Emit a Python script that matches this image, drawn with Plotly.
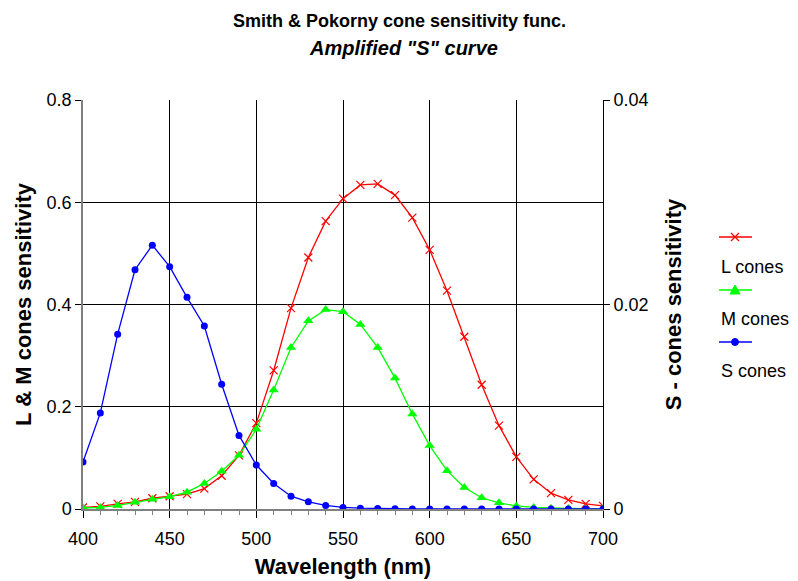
import plotly.graph_objects as go

# ---------------- data ----------------
wavelength = [400, 410, 420, 430, 440, 450, 460, 470, 480, 490, 500,
              510, 520, 530, 540, 550, 560, 570, 580, 590, 600,
              610, 620, 630, 640, 650, 660, 670, 680, 690, 700]

l_cones = [0.003, 0.005, 0.010, 0.014, 0.021, 0.025, 0.029, 0.040, 0.065, 0.105, 0.168,
           0.271, 0.393, 0.492, 0.563, 0.607, 0.634, 0.636, 0.614, 0.570, 0.507,
           0.427, 0.337, 0.243, 0.163, 0.102, 0.058, 0.031, 0.018, 0.010, 0.006]

m_cones = [0.002, 0.003, 0.007, 0.013, 0.019, 0.024, 0.033, 0.050, 0.074, 0.105, 0.156,
           0.233, 0.316, 0.368, 0.390, 0.386, 0.361, 0.316, 0.256, 0.186, 0.124,
           0.075, 0.042, 0.022, 0.012, 0.006, 0.003, 0.0015, 0.001, 0.0005, 0.0003]

s_cones = [0.0046, 0.0094, 0.0171, 0.0234, 0.0258, 0.0237, 0.0207, 0.0179, 0.0122, 0.0072, 0.0043,
           0.0025, 0.00125, 0.0007, 0.00035, 0.00015, 0.00008, 0.00004, 0.00002, 0.00001, 0.000005,
           0.000003, 0.000002, 0.000001, 0.000001, 0.0, 0.0, 0.0, 0.0, 0.0, 0.0]

series_names = ["L cones", "M cones", "S cones"]
title_lines = ["Smith & Pokorny cone sensitivity func.", "Amplified \"S\" curve"]
x_ticks = [400, 450, 500, 550, 600, 650, 700]
y_ticks = [0, 0.2, 0.4, 0.6, 0.8]
y2_ticks = [0, 0.02, 0.04]

# ---------------- layout constants ----------------
W, H = 798, 581
ML, MR, MT, MB = 83, 195, 100, 72
FONT = "Arial, 'Liberation Sans', sans-serif"
RED, GREEN, BLUE = "#FF0000", "#00FF00", "#0000FF"


def px(p):
    return (p - ML) / (W - ML - MR)


def py(p):
    return (H - MB - p) / (H - MT - MB)


fig = go.Figure()
fig.add_trace(go.Scatter(x=wavelength, y=l_cones, name=series_names[0], mode="lines+markers",
                         line=dict(color=RED, width=1.3),
                         marker=dict(symbol="x-thin", size=8, line=dict(color=RED, width=1.2))))
fig.add_trace(go.Scatter(x=wavelength, y=m_cones, name=series_names[1], mode="lines+markers",
                         line=dict(color=GREEN, width=1.3),
                         marker=dict(symbol="triangle-up", size=9, color=GREEN)))
fig.add_trace(go.Scatter(x=wavelength, y=s_cones, name=series_names[2], mode="lines+markers",
                         yaxis="y2",
                         line=dict(color=BLUE, width=1.3),
                         marker=dict(symbol="circle", size=7, color=BLUE)))

# ---------------- manual legend (symbol above text) ----------------
shapes = []
annotations = []
leg_rows = [(237, 267, RED, "x"), (290, 319, GREEN, "tri"), (342, 371, BLUE, "dot")]
for (ly, ty, col, kind), name in zip(leg_rows, series_names):
    shapes.append(dict(type="line", xref="paper", yref="paper",
                       x0=px(719), x1=px(752), y0=py(ly), y1=py(ly),
                       line=dict(color=col, width=1.3)))
    cx = 735
    if kind == "x":
        d = 4
        path = (f"M {px(cx-d)},{py(ly-d)} L {px(cx+d)},{py(ly+d)} "
                f"M {px(cx-d)},{py(ly+d)} L {px(cx+d)},{py(ly-d)}")
        shapes.append(dict(type="path", xref="paper", yref="paper", path=path,
                           line=dict(color=col, width=1.2)))
    elif kind == "tri":
        path = (f"M {px(cx-5)},{py(ly+4)} L {px(cx+5)},{py(ly+4)} "
                f"L {px(cx)},{py(ly-5)} Z")
        shapes.append(dict(type="path", xref="paper", yref="paper", path=path,
                           fillcolor=col, line=dict(color=col, width=1)))
    else:
        shapes.append(dict(type="circle", xref="paper", yref="paper",
                           x0=px(cx-3.5), x1=px(cx+3.5), y0=py(ly-3.5), y1=py(ly+3.5),
                           fillcolor=col, line=dict(color=col, width=1)))
    annotations.append(dict(text=name, xref="paper", yref="paper", x=px(719), y=py(ty),
                            xanchor="left", yanchor="middle", showarrow=False,
                            font=dict(family=FONT, size=18, color="black")))

# ---------------- title (two lines) ----------------
annotations.append(dict(text=f"<b>{title_lines[0]}</b>", xref="paper", yref="paper",
                        x=px(W / 2), y=py(21), xanchor="center", yanchor="middle", showarrow=False,
                        font=dict(family=FONT, size=18, color="black")))
annotations.append(dict(text=f"<b><i>{title_lines[1]}</i></b>", xref="paper", yref="paper",
                        x=px(W / 2 + 4), y=py(48), xanchor="center", yanchor="middle", showarrow=False,
                        font=dict(family=FONT, size=20, color="black")))

fig.update_layout(
    width=W, height=H,
    margin=dict(l=ML, r=MR, t=MT, b=MB, autoexpand=False),
    paper_bgcolor="white", plot_bgcolor="white",
    showlegend=False,
    font=dict(family=FONT, color="black", size=18),
    xaxis=dict(range=[400, 700], tickvals=x_ticks, showgrid=True, gridcolor="black", gridwidth=1,
               showline=True, linecolor="#808080", linewidth=1.5, zeroline=False, automargin=False,
               ticks="outside", ticklen=7, tickcolor="black", ticklabelstandoff=6,
               minor=dict(dtick=10, ticks="outside", ticklen=4, tickcolor="#808080", showgrid=False),
               tickfont=dict(size=18),
               title=dict(text="<b>Wavelength (nm)</b>", font=dict(size=22), standoff=10)),
    yaxis=dict(range=[0, 0.8], tickvals=y_ticks, showgrid=True, gridcolor="black", gridwidth=1,
               showline=True, linecolor="#808080", linewidth=1.5, zeroline=False, automargin=False,
               ticks="outside", ticklen=6, tickcolor="black", tickfont=dict(size=18),
               title=dict(text="<b>L & M cones sensitivity</b>", font=dict(size=22), standoff=9)),
    yaxis2=dict(range=[0, 0.04], tickvals=y2_ticks, overlaying="y", side="right", showgrid=False,
                showline=True, linecolor="black", linewidth=1, zeroline=False, automargin=False,
                ticks="outside", ticklen=6, tickcolor="black", tickfont=dict(size=18),
                title=dict(text="<b>S - cones sensitivity</b>", font=dict(size=22), standoff=17)),
    shapes=shapes,
    annotations=annotations,
)

fig.write_html("out.html")
